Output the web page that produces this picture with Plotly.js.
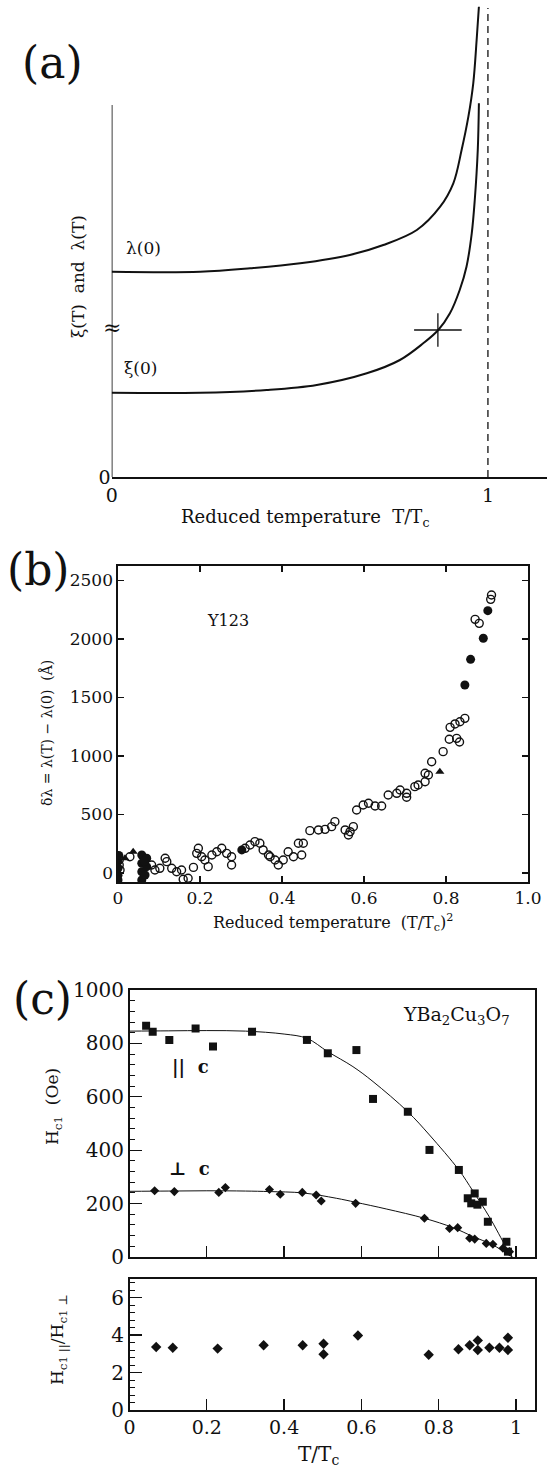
<!DOCTYPE html>
<html><head><meta charset="utf-8">
<script src="https://cdn.plot.ly/plotly-3.0.1.min.js"></script>
<style>html,body{margin:0;padding:0;background:#fff}</style>
</head><body><div id="chart" style="width:547px;height:1472px"></div>
<script>
// ---------- Panel (a): schematic curves (arbitrary units) ----------
const aLambdaT = [0, 0.235, 0.368, 0.501, 0.633, 0.722, 0.811, 0.873, 0.908, 0.930, 0.948, 0.961, 0.970, 0.976];
const aLambdaY = [20.53, 20.53, 20.87, 21.37, 22.2, 23.2, 24.7, 27.03, 29.37, 32.7, 36.03, 39.37, 43.7, 47.03];
const aXiT = [0, 0.235, 0.412, 0.545, 0.678, 0.766, 0.828, 0.868, 0.899, 0.925, 0.943, 0.957, 0.965, 0.973, 0.976];
const aXiY = [8.43, 8.43, 8.7, 9.2, 10.37, 11.7, 13.37, 14.7, 16.37, 18.7, 21.03, 24.37, 27.7, 32.7, 37.37];
const aCross = [0.867, 14.7];
const aAxisTop = 37.2;
const aBreakY = 15;
const aTc = 1;
const aTickVals = [0, 1];
const aTickText = ['0', '1'];

// ---------- Panel (b): Y123 penetration depth ----------
const bOpenX = [0.911,0.909,0.871,0.881,0.846,0.834,0.822,0.81,0.826,0.808,0.833,0.793,0.765,0.749,0.757,0.749,0.732,0.724,0.704,0.704,0.688,0.68,0.659,0.643,0.627,0.611,0.598,0.582,0.566,0.554,0.574,0.562,0.529,0.521,0.505,0.489,0.468,0.452,0.44,0.448,0.415,0.428,0.403,0.391,0.383,0.371,0.367,0.354,0.346,0.334,0.322,0.31,0.277,0.277,0.265,0.253,0.241,0.229,0.22,0.212,0.204,0.196,0.192,0.184,0.171,0.159,0.155,0.143,0.131,0.119,0.115,0.102,0.09,0.082,0.029,0.003,0.003,0.005];
const bOpenY = [2376,2339,2168,2134,1322,1293,1274,1245,1151,1143,1120,1037,951,852,838,780,752,738,681,647,709,681,667,573,573,596,581,538,353,368,396,325,439,396,373,368,362,254,254,154,182,139,111,68,111,139,154,197,254,268,239,211,139,68,168,211,182,154,54,111,139,211,168,48,-45,-54,26,11,40,97,126,40,26,68,139,111,68,26];
const bFillX = [0.902,0.891,0.860,0.846,0.302,0.058,0.058,0.058,0.058,0.07,0.07,0.066,0.064,0.0,0.0,0.0,0.0,0.002];
const bFillY = [2242,2006,1826,1607,197,154,83,11,-60,126,54,-17,100,100,40,-20,-60,150];
const bTriX = [0.037,0.785,0.017];
const bTriY = [182,866,126];
const bXTicks = [0, 0.2, 0.4, 0.6, 0.8, 1.0];
const bXText = ['0', '0.2', '0.4', '0.6', '0.8', '1.0'];
const bYTicks = [0, 500, 1000, 1500, 2000, 2500];

// ---------- Panel (c): Hc1 of YBa2Cu3O7 ----------
const cParX = [0.043,0.060,0.103,0.171,0.216,0.317,0.459,0.513,0.587,0.630,0.720,0.776,0.852,0.875,0.893,0.914,0.884,0.900,0.927,0.975,0.979];
const cParY = [866,844,813,856,788,844,813,763,775,592,544,401,326,220,238,207,201,196,132,57,20];
const cPerpX = [0.065,0.116,0.231,0.248,0.362,0.39,0.447,0.483,0.496,0.585,0.763,0.828,0.849,0.88,0.893,0.923,0.94,0.966,0.983];
const cPerpY = [248,245,242,260,253,235,242,232,210,201,145,107,110,70,67,51,48,33,20];
const cParFitX = [0, 0.1, 0.2, 0.3, 0.4, 0.459, 0.513, 0.578, 0.63, 0.72, 0.776, 0.852, 0.888, 0.931, 0.975, 0.99];
const cParFitY = [846, 847, 848, 846, 835, 819, 769, 713, 657, 544, 457, 326, 248, 150, 35, 0];
const cPerpFitX = [0, 0.1, 0.2, 0.3, 0.362, 0.448, 0.535, 0.585, 0.664, 0.763, 0.837, 0.888, 0.94, 0.99];
const cPerpFitY = [246, 247, 248, 247, 245, 240, 220, 205, 180, 145, 110, 77, 45, 0];
const cRatioX = [0.069,0.112,0.228,0.347,0.448,0.502,0.502,0.591,0.774,0.851,0.88,0.901,0.901,0.931,0.957,0.979,0.979];
const cRatioY = [3.37,3.33,3.28,3.46,3.46,3.54,2.98,3.98,2.95,3.25,3.46,3.72,3.21,3.33,3.33,3.86,3.21];
const cXTicks = [0, 0.2, 0.4, 0.6, 0.8, 1];
const cXText = ['0', '0.2', '0.4', '0.6', '0.8', '1'];
const cYTicks = [0, 200, 400, 600, 800, 1000];
const cRTicks = [0, 2, 4, 6];

// ---------- layout helpers (figure pixels -> paper) ----------
const W = 547, H = 1472;
const X = p => p / W;
const Y = p => 1 - p / H;
const FONT = '"DejaVu Serif", "Liberation Serif", serif';
const K = '#111';
const f = s => ({family: FONT, size: s, color: K});

const traces = [
  // (a)
  {x: aLambdaT, y: aLambdaY, xaxis: 'x', yaxis: 'y', mode: 'lines', line: {color: K, width: 2, shape: 'spline'}},
  {x: aXiT, y: aXiY, xaxis: 'x', yaxis: 'y', mode: 'lines', line: {color: K, width: 2, shape: 'spline'}},
  {x: [aCross[0]], y: [aCross[1]], xaxis: 'x', yaxis: 'y', mode: 'markers', marker: {symbol: 'line-ew', size: 34, line: {color: K, width: 1.3}}},
  {x: [aCross[0]], y: [aCross[1]], xaxis: 'x', yaxis: 'y', mode: 'markers', marker: {symbol: 'line-ns', size: 24, line: {color: K, width: 1.3}}},
  // (b)
  {x: bOpenX, y: bOpenY, xaxis: 'x2', yaxis: 'y2', mode: 'markers', marker: {symbol: 'circle-open', size: 8, color: K, line: {width: 1.4, color: K}}},
  {x: bFillX, y: bFillY, xaxis: 'x2', yaxis: 'y2', mode: 'markers', marker: {symbol: 'circle', size: 9, color: K}},
  {x: bTriX, y: bTriY, xaxis: 'x2', yaxis: 'y2', mode: 'markers', marker: {symbol: 'triangle-up', size: 8, color: K}},
  // (c) top
  {x: cParFitX, y: cParFitY, xaxis: 'x3', yaxis: 'y3', mode: 'lines', line: {color: K, width: 1, shape: 'spline'}},
  {x: cPerpFitX, y: cPerpFitY, xaxis: 'x3', yaxis: 'y3', mode: 'lines', line: {color: K, width: 1, shape: 'spline'}},
  {x: cParX, y: cParY, xaxis: 'x3', yaxis: 'y3', mode: 'markers', marker: {symbol: 'square', size: 8, color: K}},
  {x: cPerpX, y: cPerpY, xaxis: 'x3', yaxis: 'y3', mode: 'markers', marker: {symbol: 'diamond', size: 7, color: K}},
  // (c) bottom
  {x: cRatioX, y: cRatioY, xaxis: 'x4', yaxis: 'y4', mode: 'markers', marker: {symbol: 'diamond', size: 8, color: K}}
];

const base = {showgrid: false, zeroline: false, fixedrange: true, color: K};
const frame = {showline: true, linewidth: 1.6, linecolor: K, tickwidth: 1.3, tickcolor: K, tickmode: 'array'};

const layout = {
  width: W, height: H, showlegend: false,
  margin: {l: 0, r: 0, t: 0, b: 0},
  paper_bgcolor: '#fff', plot_bgcolor: 'rgba(0,0,0,0)',
  font: {family: FONT, color: K},
  // (a)
  xaxis: Object.assign({}, base, {domain: [X(111.7), 1], range: [0, 1.157], showline: true, linewidth: 2, linecolor: K,
    tickmode: 'array', tickvals: aTickVals, ticktext: aTickText, ticks: '', tickfont: f(19), anchor: 'y'}),
  yaxis: Object.assign({}, base, {domain: [Y(477), 1], range: [0, 47.7], showline: false,
    tickmode: 'array', tickvals: [0], ticktext: ['0'], ticks: '', tickfont: f(19), anchor: 'x'}),
  // (b)
  xaxis2: Object.assign({}, base, frame, {domain: [X(118), X(528)], range: [0, 1.0], mirror: 'ticks',
    ticks: 'inside', ticklen: 6, tickvals: bXTicks, ticktext: bXText, tickfont: f(17), anchor: 'y2'}),
  yaxis2: Object.assign({}, base, frame, {domain: [Y(882), Y(566)], range: [-77, 2624], mirror: 'ticks',
    ticks: 'inside', ticklen: 6, tickvals: bYTicks, tickfont: f(17), anchor: 'x2'}),
  // (c) top
  xaxis3: Object.assign({}, base, frame, {domain: [X(129.5), X(535)], range: [0, 1.049], mirror: true,
    ticks: 'inside', ticklen: 11, tickvals: cXTicks.slice(1), showticklabels: false, anchor: 'y3'}),
  yaxis3: Object.assign({}, base, frame, {domain: [Y(1257), Y(990)], range: [0, 1000], mirror: true,
    ticks: 'inside', ticklen: 12, tickvals: cYTicks, tickfont: f(20),
    minor: {dtick: 40, tick0: 0, ticks: 'inside', ticklen: 5, tickwidth: 1, tickcolor: K, showgrid: false}, anchor: 'x3'}),
  // (c) bottom
  xaxis4: Object.assign({}, base, frame, {domain: [X(129.5), X(535)], range: [0, 1.049], mirror: true,
    ticks: 'inside', ticklen: 11, tickvals: cXTicks, ticktext: cXText, tickfont: f(19), anchor: 'y4'}),
  yaxis4: Object.assign({}, base, frame, {domain: [Y(1410), Y(1279)], range: [0, 7], mirror: true,
    ticks: 'inside', ticklen: 12, tickvals: cRTicks, tickfont: f(20),
    minor: {dtick: 0.4, tick0: 0, ticks: 'inside', ticklen: 5, tickwidth: 1, tickcolor: K, showgrid: false}, anchor: 'x4'}),
  shapes: [
    {type: 'line', xref: 'x', yref: 'y', x0: 0, x1: 0, y0: 0, y1: aAxisTop, line: {color: K, width: 1.6}},
    {type: 'line', xref: 'x', yref: 'y', x0: aTc, x1: aTc, y0: 0, y1: 46.9, line: {color: K, width: 1.3, dash: '7px,5px'}}
  ],
  annotations: [
    ['(a)', 'paper', 'paper', X(52), Y(62), 44, 0],
    ['λ(0)', 'x', 'y', 0.085, 22.9, 17, 0],
    ['ξ(0)', 'x', 'y', 0.077, 10.9, 17, 0],
    ['≈', 'x', 'y', 0, aBreakY, 22, 0],
    ['ξ(T)  and  λ(T)', 'paper', 'paper', X(78), Y(276), 17, -90],
    ['Reduced temperature  T/T<sub>c</sub>', 'paper', 'paper', X(305), Y(518), 18, 0],
    ['(b)', 'paper', 'paper', X(39), Y(569), 44, 0],
    ['Y123', 'x2', 'y2', 0.268, 2162, 16, 0],
    ['δλ = λ(T) − λ(0)  (Å)', 'paper', 'paper', X(46), Y(733), 14, -90],
    ['Reduced temperature  (T/T<sub>c</sub>)<sup>2</sup>', 'paper', 'paper', X(333), Y(922), 16, 0],
    ['(c)', 'paper', 'paper', X(42), Y(999), 44, 0],
    ['YBa<sub>2</sub>Cu<sub>3</sub>O<sub>7</sub>', 'paper', 'paper', X(457), Y(1016), 19, 0],
    ['<b>||  c</b>', 'paper', 'paper', X(190), Y(1067), 18, 0],
    ['<b>⊥  c</b>', 'paper', 'paper', X(189), Y(1168), 18, 0],
    ['H<sub>c1</sub>  (Oe)', 'paper', 'paper', X(53), Y(1107), 17, -90],
    ['H<sub>c1 ||</sub>/H<sub>c1 ⊥</sub>', 'paper', 'paper', X(58), Y(1339), 17, -90],
    ['T/T<sub>c</sub>', 'paper', 'paper', X(318), Y(1455), 20, 0]
  ].map(([text, xref, yref, x, y, size, ang]) => ({text, xref, yref, x, y, textangle: ang, showarrow: false,
    xanchor: 'center', yanchor: 'middle', font: f(size)}))
};

Plotly.newPlot('chart', traces, layout, {staticPlot: true, displayModeBar: false});
</script>
</body></html>
